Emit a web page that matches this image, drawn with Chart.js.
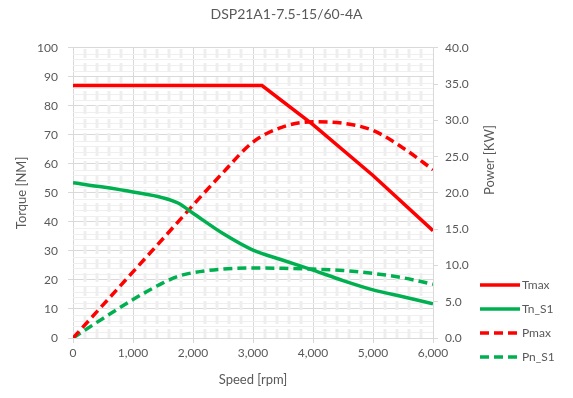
<!DOCTYPE html>
<html>
<head>
<meta charset="utf-8">
<script src="https://cdn.jsdelivr.net/npm/chart.js@4"></script>
<style>
  html, body { margin: 0; padding: 0; background: #fff; }
  #wrap { width: 573px; height: 398px; }
</style>
</head>
<body>
<div id="wrap"><canvas id="motorChart" width="573" height="398"></canvas></div>
<script>
// Speed / torque / power curves
const tmaxSpeed = [0, 3150, 4000, 5000, 6000];
const tmaxValues = [87, 87, 73.5, 56, 37];

const tnSpeed = [0, 500, 1000, 1500, 1750, 2000, 2500, 3000, 3500, 4000, 4500, 5000, 5500, 6000];
const tnValues = [53.5, 52, 50.3, 48.3, 46.5, 43, 36, 30.3, 26.8, 23.4, 19.8, 16.6, 14.2, 11.8];

const pmaxSpeed = [0, 1250, 2500, 3000, 3500, 4000, 4500, 5000, 5500, 6000];
const pmaxValues = [0, 11.4, 22.8, 27.0, 29.1, 29.8, 29.6, 28.6, 26.2, 23.2];

const pnSpeed = [0, 500, 1000, 1500, 1750, 2000, 2500, 3000, 3500, 4000, 4500, 5000, 5500, 6000];
const pnValues = [0, 2.7, 5.3, 7.6, 8.5, 9.0, 9.5, 9.65, 9.6, 9.5, 9.3, 8.9, 8.3, 7.4];

const seriesNames = ['Tmax', 'Tn_S1', 'Pmax', 'Pn_S1'];
const chartTitle = 'DSP21A1-7.5-15/60-4A';

const RED = '#ff0000';
const GREEN = '#00b050';
const TEXT = '#595959';
const FONT = 'Lato, "Open Sans", sans-serif';

function toPoints(xs, ys) {
    return xs.map((x, i) => ({ x: x, y: ys[i] }));
}

// light minor grid (Excel style pattern)
const minorGrid = {
    id: 'minorGrid',
    beforeDatasetsDraw(chart) {
        const { ctx, chartArea: a, scales } = chart;
        ctx.save();
        ctx.beginPath();
        ctx.rect(a.left, a.top, a.right - a.left, a.bottom - a.top);
        ctx.clip();
        // horizontal minor lines every 2 NM
        ctx.strokeStyle = '#efefef';
        ctx.lineWidth = 1;
        for (let v = 2; v < 100; v += 2) {
            if (v % 10 === 0) continue;
            const y = Math.round(scales.y.getPixelForValue(v)) + 0.5;
            ctx.beginPath();
            ctx.moveTo(a.left, y);
            ctx.lineTo(a.right, y);
            ctx.stroke();
        }
        // vertical minor dashed lines every 200 rpm
        ctx.strokeStyle = '#eeeeee';
        ctx.lineWidth = 3;
        ctx.setLineDash([9, 5]);
        for (let v = 200; v < 6000; v += 200) {
            if (v % 1000 === 0) continue;
            const x = Math.round(scales.x.getPixelForValue(v));
            ctx.beginPath();
            ctx.moveTo(x, a.bottom);
            ctx.lineTo(x, a.top);
            ctx.stroke();
        }
        ctx.restore();
    }
};

// legend + right axis title drawn at the Excel positions
const sideText = {
    id: 'sideText',
    afterDraw(chart) {
        const { ctx } = chart;
        ctx.save();
        ctx.font = '12px ' + FONT;
        ctx.fillStyle = TEXT;
        ctx.textBaseline = 'middle';
        ctx.textAlign = 'left';
        const ys = [285, 309, 333, 357];
        chart.data.datasets.forEach((ds, i) => {
            const y = ys[i];
            ctx.strokeStyle = ds.borderColor;
            ctx.lineWidth = 3.5;
            ctx.setLineDash(ds.borderDash || []);
            ctx.beginPath();
            ctx.moveTo(480, y);
            ctx.lineTo(520, y);
            ctx.stroke();
            ctx.fillText(ds.label, 522, y);
        });
        ctx.setLineDash([]);
        ctx.font = '13px ' + FONT;
        ctx.translate(490, 160);
        ctx.rotate(-Math.PI / 2);
        ctx.textAlign = 'center';
        ctx.fillText('Power [KW]', 0, 0);
        ctx.restore();
    }
};

const fmtThousands = v => v.toLocaleString('en-US');

new Chart(document.getElementById('motorChart'), {
    type: 'line',
    data: {
        datasets: [
            {
                label: seriesNames[0],
                data: toPoints(tmaxSpeed, tmaxValues),
                borderColor: RED,
                borderWidth: 3.5,
                tension: 0,
                yAxisID: 'y'
            },
            {
                label: seriesNames[1],
                data: toPoints(tnSpeed, tnValues),
                borderColor: GREEN,
                borderWidth: 3.5,
                cubicInterpolationMode: 'monotone',
                yAxisID: 'y'
            },
            {
                label: seriesNames[2],
                data: toPoints(pmaxSpeed, pmaxValues),
                borderColor: RED,
                borderWidth: 3.5,
                borderDash: [9, 5],
                cubicInterpolationMode: 'monotone',
                yAxisID: 'y1'
            },
            {
                label: seriesNames[3],
                data: toPoints(pnSpeed, pnValues),
                borderColor: GREEN,
                borderWidth: 3.5,
                borderDash: [9, 5],
                cubicInterpolationMode: 'monotone',
                yAxisID: 'y1'
            }
        ]
    },
    options: {
        responsive: false,
        animation: false,
        layout: { padding: 0 },
        elements: { point: { radius: 0 } },
        plugins: {
            legend: { display: false },
            tooltip: { enabled: false },
            title: {
                display: true,
                text: chartTitle,
                color: TEXT,
                font: { family: FONT, size: 14, weight: 'normal' },
                padding: { top: 6, bottom: 25 }
            }
        },
        scales: {
            x: {
                type: 'linear',
                min: 0,
                max: 6000,
                ticks: {
                    stepSize: 1000,
                    color: TEXT,
                    font: { family: FONT, size: 12 },
                    padding: 3,
                    maxRotation: 0,
                    callback: fmtThousands
                },
                grid: { color: '#d9d9d9', tickLength: 5, tickColor: '#d9d9d9' },
                border: { color: '#d9d9d9' },
                title: {
                    display: true,
                    text: 'Speed [rpm]',
                    color: TEXT,
                    font: { family: FONT, size: 13 },
                    padding: { top: 0, bottom: 10 }
                },
                afterFit(s) { s.height = 60; }
            },
            y: {
                position: 'left',
                min: 0,
                max: 100,
                ticks: {
                    stepSize: 10,
                    color: TEXT,
                    font: { family: FONT, size: 12 },
                    padding: 10
                },
                grid: { color: '#d9d9d9', tickLength: 5, tickColor: '#d9d9d9' },
                border: { color: '#d9d9d9' },
                title: {
                    display: true,
                    text: 'Torque [NM]',
                    color: TEXT,
                    font: { family: FONT, size: 13 },
                    padding: { top: 14, bottom: 0 }
                },
                afterFit(s) { s.width = 73; }
            },
            y1: {
                position: 'right',
                min: 0,
                max: 40,
                ticks: {
                    stepSize: 5,
                    color: TEXT,
                    font: { family: FONT, size: 12 },
                    padding: 7,
                    callback: v => v.toFixed(1)
                },
                grid: { drawOnChartArea: false, tickLength: 5, tickColor: '#d9d9d9' },
                border: { color: '#d9d9d9' },
                afterFit(s) { s.width = 140; }
            }
        }
    },
    plugins: [minorGrid, sideText]
});
</script>
</body>
</html>
